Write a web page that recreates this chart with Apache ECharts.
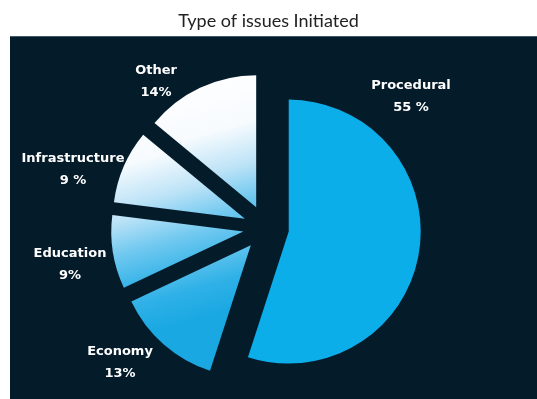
<!DOCTYPE html>
<html>
<head>
<meta charset="utf-8">
<script src="https://cdn.jsdelivr.net/npm/echarts@6/dist/echarts.min.js"></script>
<style>
    html, body { margin: 0; padding: 0; background: #fff; }
    #issues-pie { width: 537px; height: 399px; }
</style>
</head>
<body>
<div id="issues-pie"></div>
<script>
    // data
    var categories = ['Procedural', 'Economy', 'Education', 'Infrastructure', 'Other'];
    var shares = [55, 13, 9, 9, 14];
    var shareLabels = ['55 %', '13%', '9%', '9 %', '14%'];

    var panelColor = '#041b2a';
    // where each label block sits (layout only)
    var labelSpots = [[411, 97], [120, 363], [70, 265], [73, 170], [156, 82]];

    var fadeFill = {
        type: 'linear', global: true,
        x: 165, y: 105, x2: 220, y2: 300,
        colorStops: [
            {offset: 0, color: '#ffffff'},
            {offset: 0.3, color: '#f7fbfe'},
            {offset: 0.5, color: '#bde3f7'},
            {offset: 0.66, color: '#72c9f0'},
            {offset: 0.85, color: '#2fb1e7'},
            {offset: 1, color: '#1aa8e2'}
        ]
    };

    var chart = echarts.init(document.getElementById('issues-pie'));

    var pieData = categories.map(function (name, i) {
        var fill = i === 0 ? '#0caeea' : fadeFill;
        return {
            name: name,
            value: shares[i],
            selected: true,
            itemStyle: {color: fill},
            select: {itemStyle: {color: fill, borderWidth: 0}}
        };
    });

    // slice captions, text taken from the arrays above
    var captions = categories.map(function (name, i) {
        return {
            type: 'text',
            z: 10,
            x: labelSpots[i][0],
            y: labelSpots[i][1],
            style: {
                text: name + '\n' + shareLabels[i],
                fill: '#ffffff',
                font: 'bold 13px "DejaVu Sans"',
                lineHeight: 22,
                align: 'center',
                verticalAlign: 'middle'
            }
        };
    });

    var option = {
        animation: false,
        backgroundColor: '#ffffff',
        title: {
            text: 'Type of issues Initiated',
            left: 'center',
            top: 7,
            textStyle: {
                fontFamily: 'Lato',
                fontWeight: 'normal',
                fontSize: 18,
                color: '#222222'
            }
        },
        graphic: [
            {
                type: 'rect',
                z: -10,
                shape: {x: 10, y: 36, width: 527, height: 363},
                style: {fill: panelColor}
            },
            {
                type: 'rect',
                z: -9,
                shape: {x: 10, y: 36, width: 527, height: 1},
                style: {fill: '#3d5b6b'}
            }
        ].concat(captions),
        series: [
            {
                name: 'Type of issues',
                type: 'pie',
                center: [266, 228],
                radius: 132,
                startAngle: 90,
                clockwise: true,
                selectedMode: 'multiple',
                selectedOffset: 23,
                emphasis: {disabled: true},
                itemStyle: {borderWidth: 0},
                label: {show: false},
                labelLine: {show: false},
                data: pieData
            }
        ]
    };
    chart.setOption(option);
</script>
</body>
</html>
